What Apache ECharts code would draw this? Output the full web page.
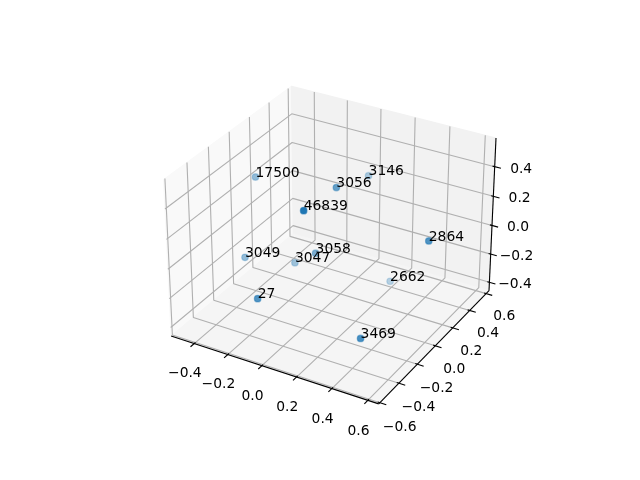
<!DOCTYPE html>
<html>
<head>
<meta charset="utf-8">
<style>html,body{margin:0;padding:0;background:#fff}#chart{width:640px;height:480px}</style>
<script src="https://cdn.jsdelivr.net/npm/echarts@6/dist/echarts.min.js"></script>
</head>
<body>
<div id="chart"></div>
<script>
/* point values */
var labels = ['17500', '3056', '3146', '46839', '2864', '3049', '3058', '3047', '2662', '27', '3469'];
var xs = [-0.462, 0.047, -0.03, 0.146, 0.568, -0.406, -0.032, -0.218, 0.171, -0.095, 0.422];
var ys = [0.12, 0.07, 0.561, -0.434, 0.08, -0.093, -0.007, 0.10, 0.439, -0.483, -0.359];
var zs = [0.248, 0.364, 0.162, 0.516, 0.174, -0.172, -0.064, -0.256, -0.45, -0.117, -0.273];

/* axes */
var xLim = [-0.54, 0.66];
var yLim = [-0.612, 0.635];
var zLim = [-0.46, 0.59];
var xTicks = [-0.4, -0.2, 0.0, 0.2, 0.4, 0.6];
var yTicks = [-0.6, -0.4, -0.2, 0.0, 0.2, 0.4, 0.6];
var zTicks = [-0.4, -0.2, 0.0, 0.2, 0.4];

var font = '13.89px "DejaVu Sans"';
var blue = '31,119,180';

/* same camera as a default mplot3d axes: elev 30, azim -60, dist 10 */
var box = [1.1905, 1.1905, 0.8929];
var R = [box[0] / 2, box[1] / 2, box[2] / 2];
var el = 30 * Math.PI / 180, az = -60 * Math.PI / 180;
var w = [Math.cos(el) * Math.cos(az), Math.cos(el) * Math.sin(az), Math.sin(el)];
var E = [R[0] + 10 * w[0], R[1] + 10 * w[1], R[2] + 10 * w[2]];
var ul = Math.sqrt(w[0] * w[0] + w[1] * w[1]);
var u = [-w[1] / ul, w[0] / ul, 0];
var v = [w[1] * u[2] - w[2] * u[1], w[2] * u[0] - w[0] * u[2], w[0] * u[1] - w[1] * u[0]];

function dot(a, b) { return a[0] * b[0] + a[1] * b[1] + a[2] * b[2]; }
function toBox(p) {
    return [
        (p[0] - xLim[0]) / (xLim[1] - xLim[0]) * box[0],
        (p[1] - yLim[0]) / (yLim[1] - yLim[0]) * box[1],
        (p[2] - zLim[0]) / (zLim[1] - zLim[0]) * box[2]
    ];
}
function depth(p) {
    var b = toBox(p);
    return dot([b[0] - R[0], b[1] - R[1], b[2] - R[2]], w);
}
function proj(p) {
    var b = toBox(p);
    var d = [b[0] - E[0], b[1] - E[1], b[2] - E[2]];
    var ze = -dot(d, w);
    var X = dot(d, u) / ze, Y = dot(d, v) / ze;
    return [143.2 + (X + 0.095) / 0.185 * 369.6, 427.2 - (Y + 0.095) / 0.185 * 369.6];
}

var series = [];

/* panes */
var x0 = xLim[0], x1 = xLim[1], y0 = yLim[0], y1 = yLim[1], z0 = zLim[0], z1 = zLim[1];
var panes = [
    {color: '#f9f9f9', pts: [[x0, y0, z0], [x0, y1, z0], [x0, y1, z1], [x0, y0, z1]]},
    {color: '#f2f2f2', pts: [[x0, y1, z0], [x1, y1, z0], [x1, y1, z1], [x0, y1, z1]]},
    {color: '#f5f5f5', pts: [[x0, y0, z0], [x1, y0, z0], [x1, y1, z0], [x0, y1, z0]]}
];
series.push({
    type: 'custom',
    silent: true,
    clip: false,
    z: 1,
    data: panes.map(function(p, i) { return [i]; }),
    renderItem: function(params, api) {
        var pane = panes[params.dataIndex];
        return {
            type: 'polygon',
            shape: {points: pane.pts.map(function(p) { return api.coord(proj(p)); })},
            style: {fill: pane.color, stroke: pane.color, lineWidth: 1}
        };
    }
});

function addLine(pts, color, width, z) {
    series.push({
        type: 'line',
        silent: true,
        clip: false,
        z: z,
        symbol: 'none',
        lineStyle: {color: color, width: width},
        data: pts.map(proj)
    });
}

/* grid lines */
var gridColor = '#b0b0b0';
xTicks.forEach(function(t) {
    addLine([[t, y0, z0], [t, y1, z0], [t, y1, z1]], gridColor, 1.11, 2);
});
yTicks.forEach(function(t) {
    addLine([[x1, t, z0], [x0, t, z0], [x0, t, z1]], gridColor, 1.11, 2);
});
zTicks.forEach(function(t) {
    addLine([[x1, y1, t], [x0, y1, t], [x0, y0, t]], gridColor, 1.11, 2);
});

/* axis lines and ticks */
addLine([[x0, y0, z0], [x1, y0, z0]], '#000', 1.11, 3);
addLine([[x1, y0, z0], [x1, y1, z0]], '#000', 1.11, 3);
addLine([[x1, y1, z0], [x1, y1, z1]], '#000', 1.11, 3);
xTicks.forEach(function(t) {
    addLine([[t, y0 + 0.012, z0], [t, y0 - 0.035, z0]], '#000', 1.11, 3);
});
yTicks.forEach(function(t) {
    addLine([[x1 - 0.012, t, z0], [x1 + 0.035, t, z0]], '#000', 1.11, 3);
});
zTicks.forEach(function(t) {
    addLine([[x1 - 0.012, y1, t], [x1 + 0.035, y1, t]], '#000', 1.11, 3);
});

/* points, far ones first, faded with depth */
var depths = xs.map(function(x, i) { return depth([x, ys[i], zs[i]]); });
var dMin = Math.min.apply(null, depths), dMax = Math.max.apply(null, depths);
var order = depths.map(function(d, i) { return i; }).sort(function(a, b) { return depths[a] - depths[b]; });
series.push({
    type: 'scatter',
    silent: true,
    clip: false,
    z: 4,
    symbolSize: 6.6,
    data: order.map(function(i) {
        var a = 1 - 0.7 * (dMax - depths[i]) / (dMax - dMin);
        return {
            value: proj([xs[i], ys[i], zs[i]]),
            itemStyle: {
                color: 'rgba(' + blue + ',' + a.toFixed(3) + ')',
                borderColor: 'rgba(' + blue + ',' + (a * 0.6).toFixed(3) + ')',
                borderWidth: 1.2,
                opacity: 1
            }
        };
    })
});

/* all text */
var texts = [];
labels.forEach(function(s, i) {
    var p = proj([xs[i], ys[i], zs[i]]);
    texts.push({s: s, p: [p[0], p[1] - 4], align: 'left'});
});
function tickText(t) { return t.toFixed(1).replace('-', '\u2212'); }
xTicks.forEach(function(t) {
    texts.push({s: tickText(t), p: proj([t + 0.0115, y0 - 0.114, z0 - 0.132]), align: 'center'});
});
yTicks.forEach(function(t) {
    texts.push({s: tickText(t), p: proj([x1 + 0.11, t, z0 - 0.123]), align: 'center'});
});
zTicks.forEach(function(t) {
    texts.push({s: tickText(t), p: proj([x1 + 0.127, y1 + 0.046, t]), align: 'center'});
});
series.push({
    type: 'custom',
    silent: true,
    clip: false,
    z: 5,
    data: texts.map(function(t, i) { return [i]; }),
    renderItem: function(params, api) {
        var t = texts[params.dataIndex];
        var c = api.coord(t.p);
        return {
            type: 'text',
            style: {text: t.s, x: c[0], y: c[1], font: font, fill: '#000', align: t.align, verticalAlign: 'middle'}
        };
    }
});

var chart = echarts.init(document.getElementById('chart'), null, {renderer: 'canvas'});
chart.setOption({
    animation: false,
    backgroundColor: '#fff',
    grid: {left: 0, right: 0, top: 0, bottom: 0},
    xAxis: {type: 'value', min: 0, max: 640, show: false},
    yAxis: {type: 'value', min: 0, max: 480, inverse: true, show: false},
    series: series
});
</script>
</body>
</html>
